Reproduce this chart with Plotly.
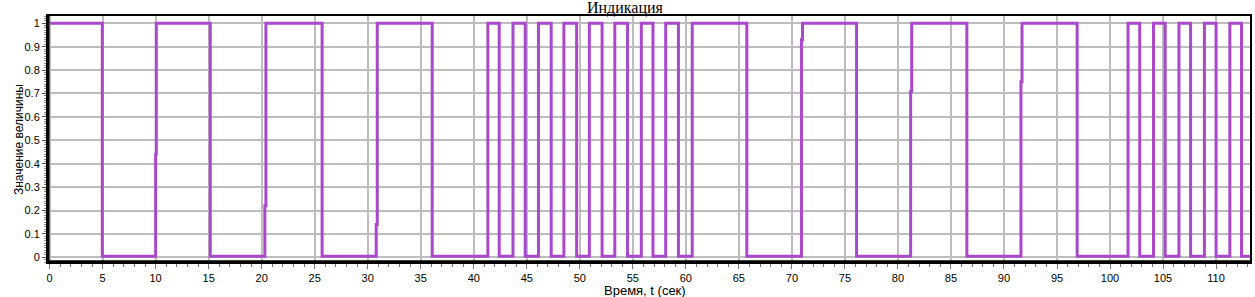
import plotly.graph_objects as go

# Signal samples (time in seconds, value), drawn as a step line
t_values = [0, 4.97, 10.0, 10.06, 15.15, 20.3, 20.4, 25.7, 30.8, 30.9, 36.08,
            41.33, 42.4, 43.7, 44.85, 46.1, 47.3, 48.5, 49.7, 50.9, 52.1, 53.3,
            54.5, 55.8, 56.9, 58.1, 59.3, 60.6, 65.75, 70.9, 71.0, 76.1,
            81.2, 81.3, 86.5, 91.6, 91.7, 96.9, 101.7, 102.8, 104.1, 105.2,
            106.5, 107.6, 108.9, 110.0, 111.3, 112.4, 113.2]
y_values = [1, 0.005, 0.44, 1, 0.005, 0.22, 1, 0.005, 0.14, 1, 0.005,
            1, 0.005, 1, 0.005, 1, 0.005, 1, 0.005, 1, 0.005, 1,
            0.005, 1, 0.005, 1, 0.005, 1, 0.005, 0.93, 1, 0.005,
            0.71, 1, 0.005, 0.75, 1, 0.005, 1, 0.005, 1, 0.005,
            1, 0.005, 1, 0.005, 1, 0.005, 0.005]

title_text = "Индикация"
x_title = "Время, t (сек)"
y_title = "Значение величины"

fig = go.Figure()
fig.add_trace(go.Scatter(x=t_values, y=y_values, mode="lines",
                         line=dict(color="#AA48CC", width=3, shape="hv"),
                         showlegend=False, hoverinfo="skip"))

W, H = 1255, 297
ml, mr, mt, mb = 48, 5, 16, 35
pw, ph = W - ml - mr, H - mt - mb

fig.update_layout(
    width=W, height=H,
    margin=dict(l=ml, r=mr, t=mt, b=mb, autoexpand=False),
    plot_bgcolor="white", paper_bgcolor="white",
    font=dict(family="Liberation Sans", size=11, color="black"),
    xaxis=dict(range=[-0.15, 113.2], tick0=0, dtick=5, automargin=False,
               showgrid=True, gridcolor="#BDBDBD", gridwidth=1.6,
               zeroline=False, showline=True, linecolor="black", linewidth=2,
               mirror=True, ticks="outside", ticklen=5, tickcolor="#777",
               minor=dict(dtick=1, ticks="outside", ticklen=3, tickcolor="#777", showgrid=False)),
    yaxis=dict(range=[-0.02, 1.031], tick0=0, dtick=0.1, automargin=False,
               showgrid=True, gridcolor="#BDBDBD", gridwidth=1.6,
               zeroline=False, showline=True, linecolor="black", linewidth=2,
               mirror=True, ticks="outside", ticklen=4, tickcolor="#555",
               minor=dict(dtick=0.01, ticks="outside", ticklen=2, tickcolor="#888", showgrid=False)),
)

# thicker left and bottom axis lines
fig.add_shape(type="line", xref="paper", yref="paper", x0=0, x1=0, y0=0, y1=1,
              line=dict(color="black", width=3))
fig.add_shape(type="line", xref="paper", yref="paper", x0=0, x1=1, y0=0, y1=0,
              line=dict(color="black", width=3.5))

# chart title
fig.add_annotation(text=title_text, xref="paper", yref="paper",
                   x=(625 - ml) / pw, y=1 + 8 / ph,
                   xanchor="center", yanchor="middle", showarrow=False,
                   font=dict(family="Liberation Serif", size=16, color="black"))
# x axis title
fig.add_annotation(text=x_title, xref="paper", yref="paper",
                   x=(645 - ml) / pw, y=-(290 - (H - mb)) / ph,
                   xanchor="center", yanchor="middle", showarrow=False,
                   font=dict(size=13))
# y axis title
fig.add_annotation(text=y_title, xref="paper", yref="paper",
                   x=-(ml - 19) / pw, y=(H - mb - 140) / ph, textangle=-90,
                   xanchor="center", yanchor="middle", showarrow=False,
                   font=dict(size=12))

fig.write_html("out.html")
